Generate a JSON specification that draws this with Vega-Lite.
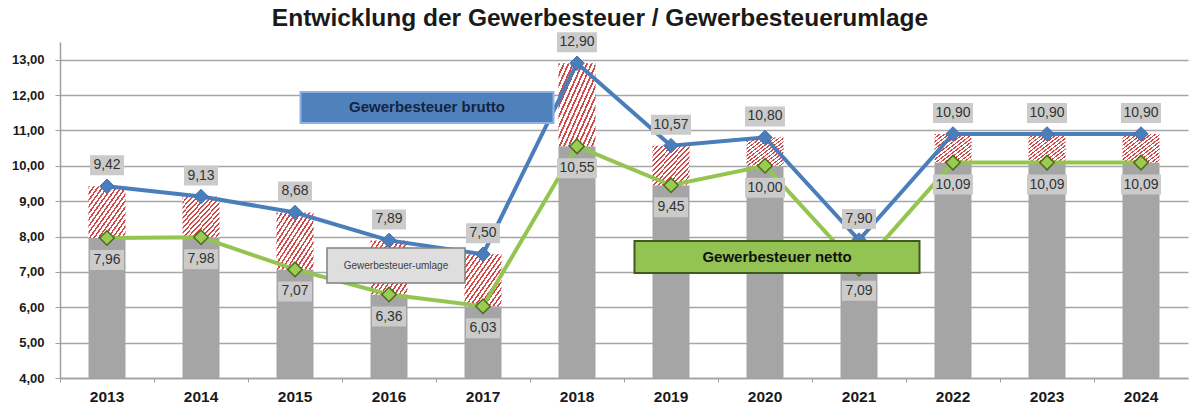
{
  "$schema": "https://vega.github.io/schema/vega-lite/v6.json",
  "autosize": {"type": "none"},
  "padding": {"left": 60, "top": 42, "right": 2, "bottom": 29},
  "width": 1128,
  "height": 336,
  "title": {"text": "Entwicklung der Gewerbesteuer / Gewerbesteuerumlage", "font": "Liberation Sans", "fontSize": 24.5, "fontWeight": "bold", "color": "#1a1a1a", "anchor": "middle", "dx": -24, "dy": 11, "offset": 12},
  "config": {
    "font": "Liberation Sans",
    "view": {"stroke": null},
    "locale": {"number": {"decimal": ",", "thousands": ".", "grouping": [3], "currency": ["", " €"]}},
    "axisY": {"values": [4, 5, 6, 7, 8, 9, 10, 11, 12, 13], "format": ".2f", "labelFont": "Liberation Sans", "labelFontSize": 13, "labelFontWeight": "bold", "labelColor": "#1a1a1a", "labelPadding": 11, "tickSize": 5, "tickColor": "#a0a0a0", "domainColor": "#a0a0a0", "domainWidth": 1.5, "grid": true, "gridColor": "#a6a6a6", "gridWidth": 1.4, "title": null},
    "axisX": {"labelAngle": 0, "labelFont": "Liberation Sans", "labelFontSize": 15.5, "labelFontWeight": "bold", "labelColor": "#1a1a1a", "labelPadding": 7, "tickSize": 4, "tickColor": "#a0a0a0", "bandPosition": 0, "domainColor": "#a0a0a0", "domainWidth": 1.5, "grid": false, "title": null}
  },
  "data": {"values": [
    {"year": "2013", "brutto": 9.42, "netto": 7.96},
    {"year": "2014", "brutto": 9.13, "netto": 7.98},
    {"year": "2015", "brutto": 8.68, "netto": 7.07},
    {"year": "2016", "brutto": 7.89, "netto": 6.36},
    {"year": "2017", "brutto": 7.50, "netto": 6.03},
    {"year": "2018", "brutto": 12.90, "netto": 10.55},
    {"year": "2019", "brutto": 10.57, "netto": 9.45},
    {"year": "2020", "brutto": 10.80, "netto": 10.00},
    {"year": "2021", "brutto": 7.90, "netto": 7.09},
    {"year": "2022", "brutto": 10.90, "netto": 10.09},
    {"year": "2023", "brutto": 10.90, "netto": 10.09},
    {"year": "2024", "brutto": 10.90, "netto": 10.09}
  ]},
  "encoding": {
    "x": {"field": "year", "type": "ordinal", "sort": null, "title": null,
      "scale": {"paddingInner": 0, "paddingOuter": 0}}
  },
  "layer": [
    {"mark": {"type": "bar", "width": 37, "color": "#a5a5a5"},
     "encoding": {
       "y": {"field": "netto", "type": "quantitative", "title": null,
         "scale": {"domain": [4, 13.5], "zero": false, "nice": false}},
       "y2": {"datum": 4}
     }},
    {"mark": {"type": "bar", "width": 37,
       "fill": {"gradient": "linear", "x1": 0, "y1": 0, "x2": 1, "y2": 1, "stops": [
         {"offset": 0, "color": "#d04848"}, {"offset": 0.025, "color": "#d04848"}, {"offset": 0.025, "color": "#ffffff"}, {"offset": 0.0625, "color": "#ffffff"},
         {"offset": 0.0625, "color": "#d04848"}, {"offset": 0.0875, "color": "#d04848"}, {"offset": 0.0875, "color": "#ffffff"}, {"offset": 0.125, "color": "#ffffff"},
         {"offset": 0.125, "color": "#d04848"}, {"offset": 0.15, "color": "#d04848"}, {"offset": 0.15, "color": "#ffffff"}, {"offset": 0.1875, "color": "#ffffff"},
         {"offset": 0.1875, "color": "#d04848"}, {"offset": 0.2125, "color": "#d04848"}, {"offset": 0.2125, "color": "#ffffff"}, {"offset": 0.25, "color": "#ffffff"},
         {"offset": 0.25, "color": "#d04848"}, {"offset": 0.275, "color": "#d04848"}, {"offset": 0.275, "color": "#ffffff"}, {"offset": 0.3125, "color": "#ffffff"},
         {"offset": 0.3125, "color": "#d04848"}, {"offset": 0.3375, "color": "#d04848"}, {"offset": 0.3375, "color": "#ffffff"}, {"offset": 0.375, "color": "#ffffff"},
         {"offset": 0.375, "color": "#d04848"}, {"offset": 0.4, "color": "#d04848"}, {"offset": 0.4, "color": "#ffffff"}, {"offset": 0.4375, "color": "#ffffff"},
         {"offset": 0.4375, "color": "#d04848"}, {"offset": 0.4625, "color": "#d04848"}, {"offset": 0.4625, "color": "#ffffff"}, {"offset": 0.5, "color": "#ffffff"},
         {"offset": 0.5, "color": "#d04848"}, {"offset": 0.525, "color": "#d04848"}, {"offset": 0.525, "color": "#ffffff"}, {"offset": 0.5625, "color": "#ffffff"},
         {"offset": 0.5625, "color": "#d04848"}, {"offset": 0.5875, "color": "#d04848"}, {"offset": 0.5875, "color": "#ffffff"}, {"offset": 0.625, "color": "#ffffff"},
         {"offset": 0.625, "color": "#d04848"}, {"offset": 0.65, "color": "#d04848"}, {"offset": 0.65, "color": "#ffffff"}, {"offset": 0.6875, "color": "#ffffff"},
         {"offset": 0.6875, "color": "#d04848"}, {"offset": 0.7125, "color": "#d04848"}, {"offset": 0.7125, "color": "#ffffff"}, {"offset": 0.75, "color": "#ffffff"},
         {"offset": 0.75, "color": "#d04848"}, {"offset": 0.775, "color": "#d04848"}, {"offset": 0.775, "color": "#ffffff"}, {"offset": 0.8125, "color": "#ffffff"},
         {"offset": 0.8125, "color": "#d04848"}, {"offset": 0.8375, "color": "#d04848"}, {"offset": 0.8375, "color": "#ffffff"}, {"offset": 0.875, "color": "#ffffff"},
         {"offset": 0.875, "color": "#d04848"}, {"offset": 0.9, "color": "#d04848"}, {"offset": 0.9, "color": "#ffffff"}, {"offset": 0.9375, "color": "#ffffff"},
         {"offset": 0.9375, "color": "#d04848"}, {"offset": 0.9625, "color": "#d04848"}, {"offset": 0.9625, "color": "#ffffff"}, {"offset": 1, "color": "#ffffff"}
       ]}},
     "encoding": {
       "y": {"field": "netto", "type": "quantitative", "title": null},
       "y2": {"field": "brutto"}
     }},
    {"mark": {"type": "line", "color": "#4a7ebb", "strokeWidth": 4},
     "encoding": {"y": {"field": "brutto", "type": "quantitative", "title": null}}},
    {"mark": {"type": "line", "color": "#93c550", "strokeWidth": 4},
     "encoding": {"y": {"field": "netto", "type": "quantitative", "title": null}}},
    {"mark": {"type": "point", "shape": "diamond", "filled": true, "opacity": 1, "size": 210, "fill": "#4a7ebb", "stroke": "#3f72b0", "strokeWidth": 1},
     "encoding": {"y": {"field": "brutto", "type": "quantitative", "title": null}}},
    {"mark": {"type": "point", "shape": "diamond", "filled": true, "opacity": 1, "size": 210, "fill": "#9acb52", "stroke": "#4f6b1f", "strokeWidth": 1.5},
     "encoding": {"y": {"field": "netto", "type": "quantitative", "title": null}}},
    {"mark": {"type": "point", "filled": true, "opacity": 1, "fill": "#cbcbcb", "strokeWidth": 0, "yOffset": -21},
     "encoding": {
       "y": {"field": "brutto", "type": "quantitative", "title": null},
       "shape": {"condition": {"test": "datum.brutto >= 10", "value": "M-1,-0.5H1V0.5H-1Z"}, "value": "M-1,-0.588H1V0.588H-1Z"},
       "size": {"condition": {"test": "datum.brutto >= 10", "value": 1600}, "value": 1156}
     }},
    {"mark": {"type": "text", "font": "Liberation Sans", "fontSize": 14, "color": "#333333", "baseline": "middle", "align": "center", "yOffset": -21},
     "encoding": {
       "y": {"field": "brutto", "type": "quantitative", "title": null},
       "text": {"field": "brutto", "type": "quantitative", "format": ".2f"}
     }},
    {"mark": {"type": "point", "filled": true, "opacity": 1, "fill": "#cbcbcb", "strokeWidth": 0, "yOffset": 22},
     "encoding": {
       "y": {"field": "netto", "type": "quantitative", "title": null},
       "shape": {"condition": {"test": "datum.netto >= 10", "value": "M-1,-0.5H1V0.5H-1Z"}, "value": "M-1,-0.588H1V0.588H-1Z"},
       "size": {"condition": {"test": "datum.netto >= 10", "value": 1600}, "value": 1156}
     }},
    {"mark": {"type": "text", "font": "Liberation Sans", "fontSize": 14, "color": "#333333", "baseline": "middle", "align": "center", "yOffset": 22},
     "encoding": {
       "y": {"field": "netto", "type": "quantitative", "title": null},
       "text": {"field": "netto", "type": "quantitative", "format": ".2f"}
     }},
    {"data": {"values": [{"year": "2016", "v": 11.65, "label": "Gewerbesteuer brutto"}]},
     "mark": {"type": "point", "filled": true, "opacity": 1, "fill": "#4f81bd", "stroke": "#8db3e2", "strokeWidth": 2, "shape": "M-1,-0.1225H1V0.1225H-1Z", "size": 64009, "xOffset": 38},
     "encoding": {"y": {"field": "v", "type": "quantitative", "title": null}}},
    {"data": {"values": [{"year": "2016", "v": 11.65, "label": "Gewerbesteuer brutto"}]},
     "mark": {"type": "text", "font": "Liberation Sans", "fontSize": 15, "fontWeight": "bold", "color": "#16243f", "baseline": "middle", "align": "center", "xOffset": 38},
     "encoding": {"y": {"field": "v", "type": "quantitative", "title": null}, "text": {"field": "label"}}},
    {"data": {"values": [{"year": "2020", "v": 7.42, "label": "Gewerbesteuer netto"}]},
     "mark": {"type": "point", "filled": true, "opacity": 1, "fill": "#92c353", "stroke": "#3f5a1a", "strokeWidth": 2, "shape": "M-1,-0.1123H1V0.1123H-1Z", "size": 81225, "xOffset": 12},
     "encoding": {"y": {"field": "v", "type": "quantitative", "title": null}}},
    {"data": {"values": [{"year": "2020", "v": 7.42, "label": "Gewerbesteuer netto"}]},
     "mark": {"type": "text", "font": "Liberation Sans", "fontSize": 15, "fontWeight": "bold", "color": "#111111", "baseline": "middle", "align": "center", "xOffset": 12},
     "encoding": {"y": {"field": "v", "type": "quantitative", "title": null}, "text": {"field": "label"}}},
    {"data": {"values": [{"year": "2016", "v": 7.18, "label": "Gewerbesteuer-umlage"}]},
     "mark": {"type": "point", "filled": true, "opacity": 1, "fill": "#dedede", "stroke": "#808080", "strokeWidth": 1.5, "shape": "M-1,-0.2536H1V0.2536H-1Z", "size": 19044, "xOffset": 7},
     "encoding": {"y": {"field": "v", "type": "quantitative", "title": null}}},
    {"data": {"values": [{"year": "2016", "v": 7.18, "label": "Gewerbesteuer-umlage"}]},
     "mark": {"type": "text", "font": "Liberation Sans", "fontSize": 10, "color": "#404040", "baseline": "middle", "align": "center", "xOffset": 7},
     "encoding": {"y": {"field": "v", "type": "quantitative", "title": null}, "text": {"field": "label"}}}
  ]
}
